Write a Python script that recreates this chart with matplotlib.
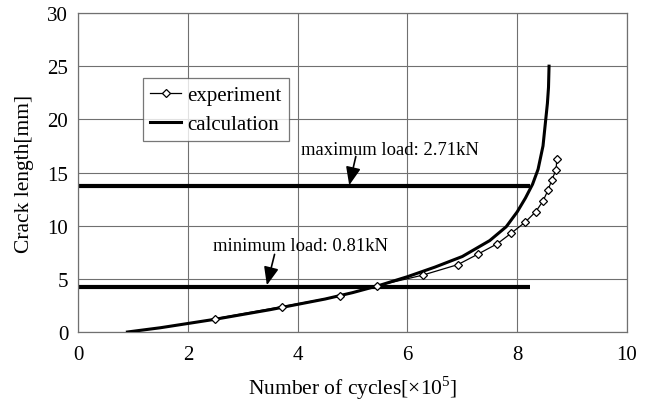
import matplotlib
matplotlib.use("Agg")
import matplotlib.pyplot as plt

plt.rcParams['font.family'] = ['Liberation Serif', 'DejaVu Serif']
plt.rcParams['mathtext.fontset'] = 'custom'
plt.rcParams['mathtext.rm'] = 'Liberation Serif'

# experiment data (cycles x1e5, crack length mm)
exp_n = [2.50, 3.72, 4.78, 5.45, 6.28, 6.92, 7.28, 7.64, 7.89, 8.15,
         8.34, 8.47, 8.56, 8.63, 8.71, 8.72]
exp_a = [1.26, 2.39, 3.39, 4.35, 5.35, 6.34, 7.31, 8.31, 9.29, 10.35,
         11.33, 12.32, 13.33, 14.30, 15.28, 16.31]

# calculation curve
calc_n = [0.90, 1.5, 2.0, 2.5, 3.0, 3.5, 4.0, 4.5, 5.0, 5.5, 6.0, 6.5,
          7.0, 7.5, 7.8, 8.0, 8.15, 8.28, 8.38, 8.47, 8.52, 8.55, 8.57, 8.58]
calc_a = [0.0, 0.4, 0.8, 1.2, 1.65, 2.1, 2.6, 3.1, 3.7, 4.4, 5.2, 6.1,
          7.1, 8.6, 9.9, 11.3, 12.6, 13.9, 15.3, 17.5, 20.0, 21.5, 23.0, 25.0]

# load levels
max_load = 13.7
min_load = 4.25
load_end = 8.23

fig = plt.figure(figsize=(6.48, 4.06), dpi=100)
ax = fig.add_axes([0.1204, 0.1798, 0.8472, 0.7857])

ax.plot([0, load_end], [max_load, max_load], color='black', lw=3, solid_capstyle='butt')
ax.plot([0, load_end], [min_load, min_load], color='black', lw=3, solid_capstyle='butt')

ax.plot(exp_n, exp_a, color='black', lw=0.9, marker='D', ms=4.3, mfc='white',
        mec='black', mew=0.9, label='experiment', zorder=4)
ax.plot(calc_n, calc_a, color='black', lw=2.2, label='calculation', zorder=3)

ax.annotate('', xy=(4.94, 13.8), xytext=(5.06, 16.5),
            arrowprops=dict(arrowstyle='-|>,head_length=1.1,head_width=0.45',
                            color='black', lw=1.2, shrinkA=0, shrinkB=0))
ax.annotate('', xy=(3.44, 4.4), xytext=(3.58, 7.3),
            arrowprops=dict(arrowstyle='-|>,head_length=1.1,head_width=0.45',
                            color='black', lw=1.2, shrinkA=0, shrinkB=0))
ax.text(4.06, 17.2, 'maximum load: 2.71kN', fontsize=13.4, va='center', ha='left')
ax.text(2.45, 8.15, 'minimum load: 0.81kN', fontsize=13.4, va='center', ha='left')

ax.set_xlim(0, 10)
ax.set_ylim(0, 30)
ax.set_xticks(range(0, 11, 2))
ax.set_yticks(range(0, 31, 5))
ax.grid(True, color='#707070', lw=0.8)
ax.set_axisbelow(True)
for s in ax.spines.values():
    s.set_color('#707070')
    s.set_linewidth(0.9)
ax.tick_params(length=0, labelsize=15)
ax.tick_params(axis='x', pad=9)
ax.tick_params(axis='y', pad=7)

ax.set_xlabel(r'Number of cycles[$\times$10$^5$]', fontsize=15.5, labelpad=7)
ax.set_ylabel('Crack length[mm]', fontsize=15.5, labelpad=10)

leg = ax.legend(loc='upper left', bbox_to_anchor=(0.118, 0.796), fontsize=15,
                frameon=True, fancybox=False, edgecolor='#555555',
                handlelength=1.5, handletextpad=0.3, borderpad=0.35,
                labelspacing=0.45, borderaxespad=0)
leg.get_frame().set_linewidth(0.9)

fig.savefig('out.png', dpi=100)
